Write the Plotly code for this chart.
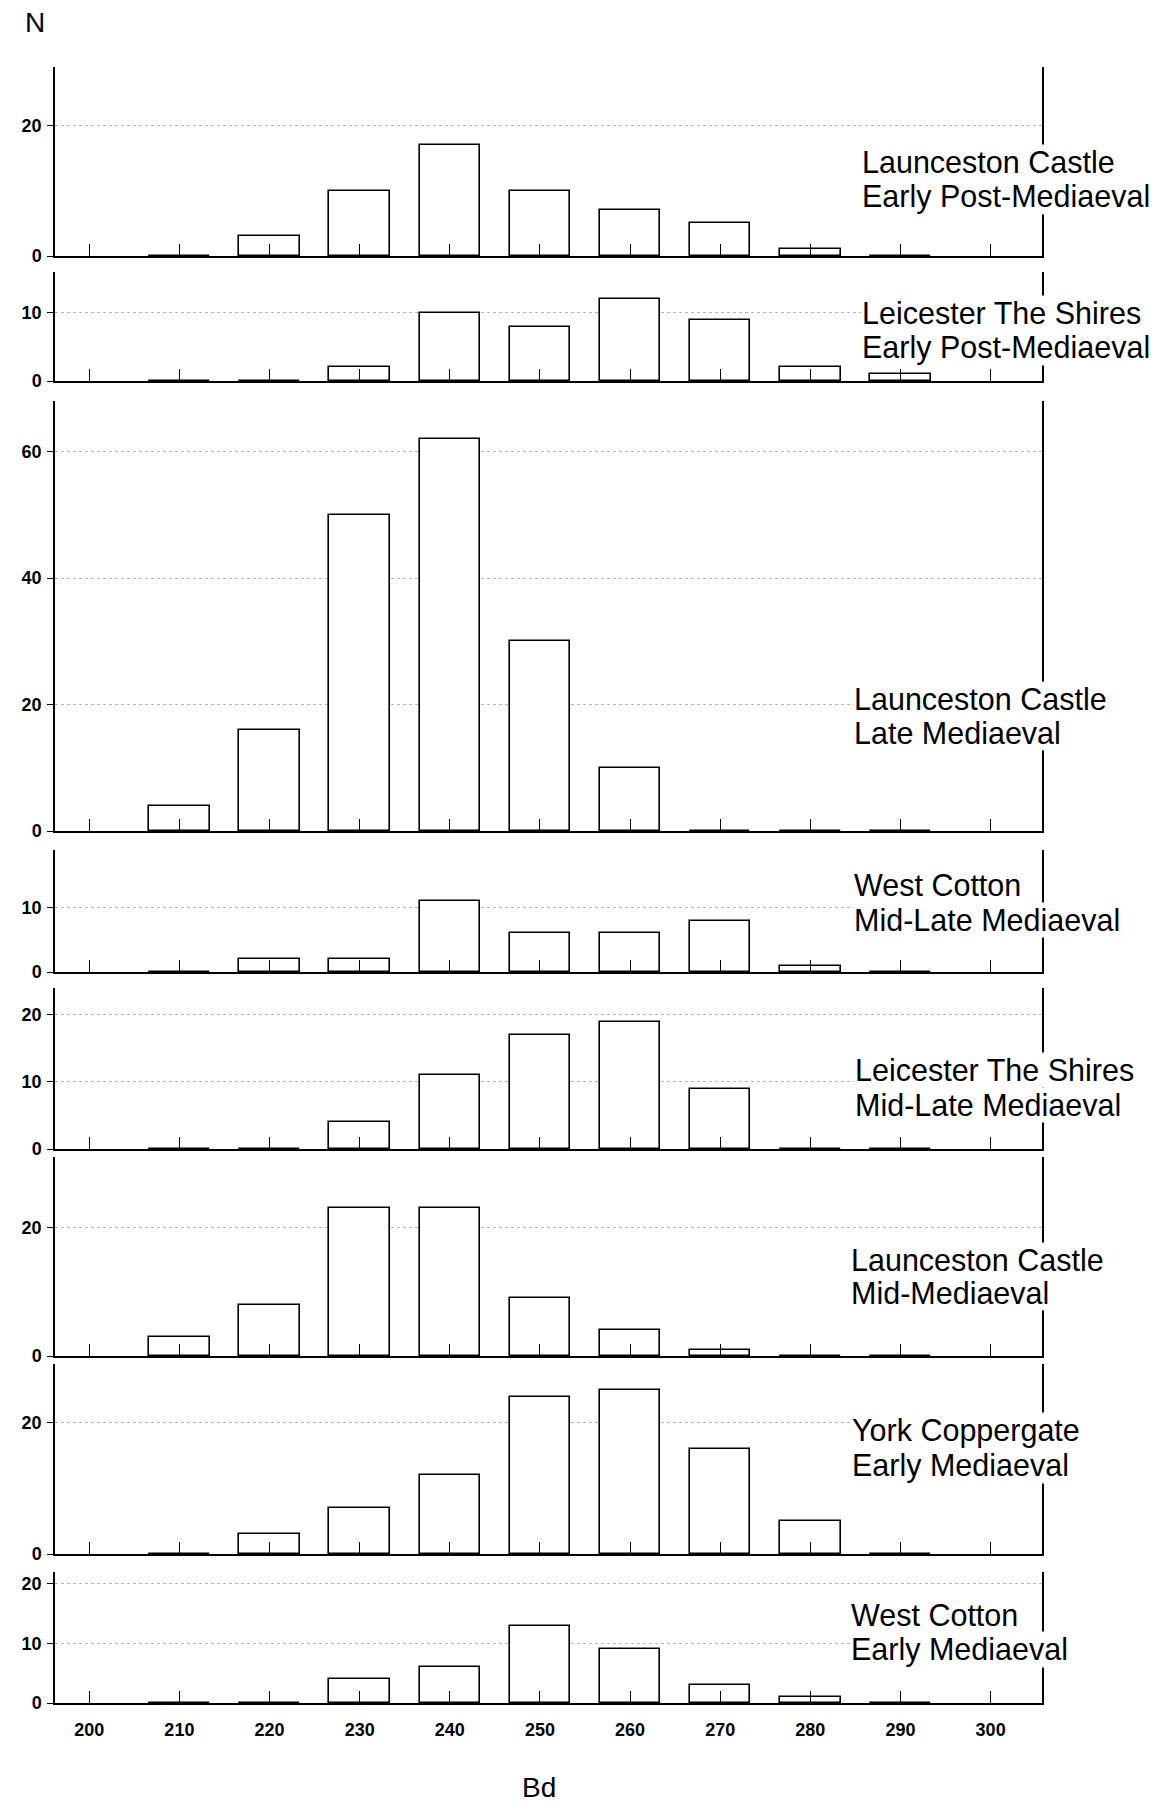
import plotly.graph_objects as go

# ---------------- data ----------------
bins = [210, 220, 230, 240, 250, 260, 270, 280, 290]

launceston_early_post = [0, 3, 10, 17, 10, 7, 5, 1, 0]
leicester_early_post = [0, 0, 2, 10, 8, 12, 9, 2, 1]
launceston_late = [4, 16, 50, 62, 30, 10, 0, 0, 0]
west_cotton_mid_late = [0, 2, 2, 11, 6, 6, 8, 1, 0]
leicester_mid_late = [0, 0, 4, 11, 17, 19, 9, 0, 0]
launceston_mid = [3, 8, 23, 23, 9, 4, 1, 0, 0]
york_early = [0, 3, 7, 12, 24, 25, 16, 5, 0]
west_cotton_early = [0, 0, 4, 6, 13, 9, 3, 1, 0]

series = [launceston_early_post, leicester_early_post, launceston_late,
          west_cotton_mid_late, leicester_mid_late, launceston_mid,
          york_early, west_cotton_early]

panel_labels = [
    ("Launceston Castle", "Early Post-Mediaeval"),
    ("Leicester The Shires", "Early Post-Mediaeval"),
    ("Launceston Castle", "Late Mediaeval"),
    ("West Cotton", "Mid-Late Mediaeval"),
    ("Leicester The Shires", "Mid-Late Mediaeval"),
    ("Launceston Castle", "Mid-Mediaeval"),
    ("York Coppergate", "Early Mediaeval"),
    ("West Cotton", "Early Mediaeval"),
]

y_max = [29, 16, 68, 19, 24, 31, 29, 22]
y_dtick = [20, 10, 20, 10, 10, 20, 20, 10]
x_tick_vals = list(range(200, 301, 10))
x_tick_text = [str(v) for v in x_tick_vals]

# ---------------- layout geometry (pixels) ----------------
W, H = 1156, 1806
ML, MR, MT, MB = 55, 114, 67, 103
PW = W - ML - MR
PH = H - MT - MB

panel_px = [(67, 256), (272, 381), (401, 831), (850, 972),
            (988, 1149), (1157, 1356), (1364, 1554), (1572, 1703)]
label_px = [(861, 162, 197), (861, 313, 347), (853, 699, 733), (853, 885, 920),
            (854, 1070, 1105), (850, 1260, 1293), (851, 1430, 1465), (850, 1615, 1649)]


def py(px):
    return (H - MB - px) / PH


def pxx(px):
    return (px - ML) / PW


FONT = "Liberation Sans, Arial, sans-serif"
fig = go.Figure()
layout = dict(
    width=W, height=H,
    margin=dict(l=ML, r=MR, t=MT, b=MB, pad=0),
    paper_bgcolor="white", plot_bgcolor="white",
    showlegend=False, bargap=0,
    font=dict(family=FONT, color="black"),
)

n = len(series)
for i, vals in enumerate(series):
    k = "" if i == 0 else str(i + 1)
    fig.add_trace(go.Bar(
        x=bins, y=vals, width=6.7,
        marker=dict(color="white", line=dict(color="black", width=1.6)),
        xaxis="x" + k, yaxis="y" + k, hoverinfo="x+y",
    ))
    top, bot = panel_px[i]
    last = (i == n - 1)
    layout["xaxis" + k] = dict(
        domain=[0, 1], anchor="y" + k, range=[196.2, 305.7],
        showline=True, linecolor="black", linewidth=1.5,
        ticks="inside", ticklen=12, tickwidth=1.2, tickcolor="black",
        tickvals=x_tick_vals, ticktext=x_tick_text,
        showticklabels=last, showgrid=False, zeroline=False,
        tickfont=dict(size=18, family=FONT, weight="bold"),
        ticklabelstandoff=10,
    )
    layout["yaxis" + k] = dict(
        domain=[py(bot), py(top)], anchor="x" + k, range=[0, y_max[i]],
        dtick=y_dtick[i], tick0=0,
        showline=True, mirror=True, linecolor="black", linewidth=1.5,
        ticks="outside", ticklen=6, tickwidth=1.2, tickcolor="black",
        showgrid=True, gridcolor="#b5b5b5", griddash="dot", gridwidth=1,
        zeroline=False,
        tickfont=dict(size=18, family=FONT, weight="bold"),
        ticklabelstandoff=2,
    )

annotations = []
for (l1, l2), (lx, y1, y2) in zip(panel_labels, label_px):
    # second line first so the first line (with its descenders) is drawn on top
    for txt, yy in ((l2, y2), (l1, y1)):
        annotations.append(dict(
            text=txt, xref="paper", yref="paper", x=pxx(lx), y=py(yy),
            xanchor="left", yanchor="middle", showarrow=False,
            bgcolor="white", borderpad=0,
            font=dict(size=30.5, family=FONT, color="black"),
        ))

annotations.append(dict(text="N", xref="paper", yref="paper", x=pxx(35), y=py(23),
                        xanchor="center", yanchor="middle", showarrow=False,
                        font=dict(size=28, family=FONT)))
annotations.append(dict(text="Bd", xref="paper", yref="paper", x=pxx(539), y=py(1788),
                        xanchor="center", yanchor="middle", showarrow=False,
                        font=dict(size=28, family=FONT)))
layout["annotations"] = annotations

fig.update_layout(**layout)
fig.write_html("out.html")
